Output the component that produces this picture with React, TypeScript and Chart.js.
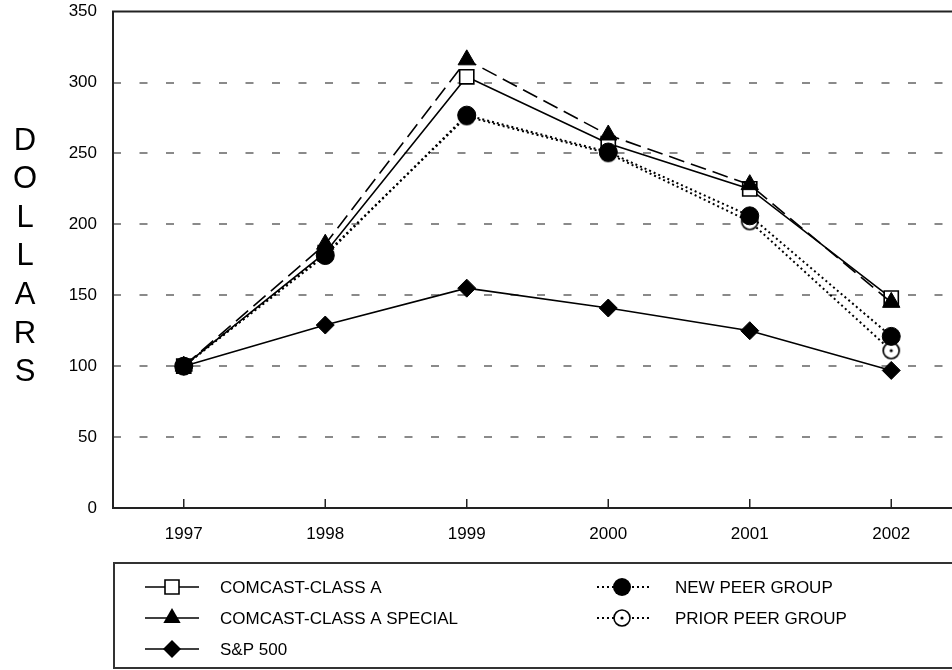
import React, { useEffect, useRef } from "react";
import { Chart, registerables } from "chart.js";

Chart.register(...registerables);

const years = ["1997", "1998", "1999", "2000", "2001", "2002"];
const yTicks = [0, 50, 100, 150, 200, 250, 300, 350];
const classA = [100, 180, 304, 257, 225, 148];
const classASpecial = [100, 186, 316, 263, 228, 145];
const newPeer = [100, 178, 277, 251, 206, 121];
const priorPeer = [100, 179, 276, 250, 202, 111];
const sp500 = [100, 129, 155, 141, 125, 97];
const axisTitle = "DOLLARS";
const legendLeft = ["COMCAST-CLASS A", "COMCAST-CLASS A SPECIAL", "S&P 500"];
const legendRight = ["NEW PEER GROUP", "PRIOR PEER GROUP"];

const FONT = "'Liberation Sans', Arial, Helvetica, sans-serif";

function makeOpenDot(r: number): HTMLCanvasElement {
  const c = document.createElement("canvas");
  const s = Math.ceil(r * 2 + 4);
  c.width = s;
  c.height = s;
  const g = c.getContext("2d")!;
  g.beginPath();
  g.arc(s / 2, s / 2, r, 0, Math.PI * 2);
  g.fillStyle = "#fff";
  g.fill();
  g.lineWidth = 1.7;
  g.strokeStyle = "#000";
  g.stroke();
  g.beginPath();
  g.arc(s / 2, s / 2, 1.6, 0, Math.PI * 2);
  g.fillStyle = "#000";
  g.fill();
  return c;
}

function drawMarker(ctx: CanvasRenderingContext2D, kind: string, x: number, y: number) {
  ctx.save();
  ctx.setLineDash([]);
  ctx.lineWidth = 1.6;
  ctx.strokeStyle = "#000";
  ctx.fillStyle = "#000";
  ctx.beginPath();
  if (kind === "square") {
    const s = 7;
    ctx.rect(x - s, y - s, 2 * s, 2 * s);
    ctx.fillStyle = "#fff";
    ctx.fill();
    ctx.stroke();
  } else if (kind === "triangle") {
    const r = 10;
    ctx.moveTo(x, y - r);
    ctx.lineTo(x + r * 0.866, y + r * 0.5);
    ctx.lineTo(x - r * 0.866, y + r * 0.5);
    ctx.closePath();
    ctx.fill();
  } else if (kind === "diamond") {
    const r = 9;
    ctx.moveTo(x, y - r);
    ctx.lineTo(x + r, y);
    ctx.lineTo(x, y + r);
    ctx.lineTo(x - r, y);
    ctx.closePath();
    ctx.fill();
  } else if (kind === "circle") {
    ctx.arc(x, y, 9, 0, Math.PI * 2);
    ctx.fill();
  } else if (kind === "opencircle") {
    ctx.arc(x, y, 8, 0, Math.PI * 2);
    ctx.fillStyle = "#fff";
    ctx.fill();
    ctx.stroke();
    ctx.beginPath();
    ctx.fillStyle = "#000";
    ctx.arc(x, y, 1.6, 0, Math.PI * 2);
    ctx.fill();
  }
  ctx.restore();
}

const framePlugin = {
  id: "frameAndGrid",
  beforeDatasetsDraw(chart: any) {
    const { ctx, chartArea } = chart;
    const y = chart.scales.y;
    const x = chart.scales.x;
    ctx.save();
    ctx.strokeStyle = "#8a8a8a";
    ctx.lineWidth = 2;
    ctx.setLineDash([8, 18.5]);
    yTicks.forEach((v) => {
      if (v === 0 || v === 350) return;
      const py = Math.round(y.getPixelForValue(v));
      ctx.beginPath();
      ctx.moveTo(chartArea.left, py);
      ctx.lineTo(chartArea.right, py);
      ctx.stroke();
    });
    ctx.setLineDash([]);
    ctx.strokeStyle = "#222";
    ctx.lineWidth = 2;
    ctx.beginPath();
    ctx.rect(chartArea.left, chartArea.top, chartArea.right - chartArea.left, chartArea.bottom - chartArea.top);
    ctx.stroke();
    ctx.lineWidth = 1.5;
    years.forEach((_, i) => {
      const px = x.getPixelForValue(i);
      ctx.beginPath();
      ctx.moveTo(px, chartArea.bottom);
      ctx.lineTo(px, chartArea.bottom - 9);
      ctx.stroke();
    });
    ctx.restore();
  },
  afterDraw(chart: any) {
    const { ctx } = chart;
    ctx.save();
    ctx.fillStyle = "#000";
    ctx.font = `31px ${FONT}`;
    ctx.textAlign = "center";
    ctx.textBaseline = "middle";
    axisTitle.split("").forEach((ch, i) => {
      ctx.fillText(ch, 25, 141 + i * 38.6);
    });
    ctx.strokeStyle = "#333";
    ctx.lineWidth = 2;
    ctx.beginPath();
    ctx.rect(114, 563, 900, 105);
    ctx.stroke();
    const rows = [587, 618, 649];
    const leftKinds = ["square", "triangle", "diamond"];
    const rightKinds = ["circle", "opencircle"];
    ctx.font = `17px ${FONT}`;
    ctx.textAlign = "left";
    ctx.textBaseline = "middle";
    legendLeft.forEach((label, i) => {
      const yy = rows[i];
      ctx.strokeStyle = "#000";
      ctx.lineWidth = 1.6;
      ctx.setLineDash([]);
      ctx.beginPath();
      ctx.moveTo(145, yy);
      ctx.lineTo(199, yy);
      ctx.stroke();
      drawMarker(ctx, leftKinds[i], 172, yy);
      ctx.fillStyle = "#000";
      ctx.fillText(label, 220, yy + 1);
    });
    legendRight.forEach((label, i) => {
      const yy = rows[i];
      ctx.strokeStyle = "#000";
      ctx.lineWidth = 2;
      ctx.setLineDash([2, 3]);
      ctx.beginPath();
      ctx.moveTo(597, yy);
      ctx.lineTo(650, yy);
      ctx.stroke();
      ctx.setLineDash([]);
      drawMarker(ctx, rightKinds[i], 622, yy);
      ctx.fillStyle = "#000";
      ctx.fillText(label, 675, yy + 1);
    });
    ctx.restore();
  },
};

export default function App() {
  const ref = useRef<HTMLCanvasElement | null>(null);
  useEffect(() => {
    if (!ref.current) return;
    const openDot = makeOpenDot(8);
    const chart = new Chart(ref.current, {
      type: "line",
      data: {
        labels: years,
        datasets: [
          {
            label: legendLeft[0],
            data: classA,
            borderColor: "#000",
            borderWidth: 1.6,
            pointStyle: "rect",
            pointRadius: 10,
            pointBackgroundColor: "#fff",
            pointBorderColor: "#000",
            pointBorderWidth: 1.6,
            order: 3,
          },
          {
            label: legendLeft[1],
            data: classASpecial,
            borderColor: "#000",
            borderWidth: 1.6,
            borderDash: [16, 7],
            pointStyle: "triangle",
            pointRadius: 10,
            pointBackgroundColor: "#000",
            pointBorderColor: "#000",
            pointBorderWidth: 1,
            order: 0,
          },
          {
            label: legendLeft[2],
            data: sp500,
            borderColor: "#000",
            borderWidth: 1.6,
            pointStyle: "rectRot",
            pointRadius: 9,
            pointBackgroundColor: "#000",
            pointBorderColor: "#000",
            pointBorderWidth: 1,
            order: 4,
          },
          {
            label: legendRight[0],
            data: newPeer,
            borderColor: "#000",
            borderWidth: 2,
            borderDash: [2, 3],
            pointStyle: "circle",
            pointRadius: 9,
            pointBackgroundColor: "#000",
            pointBorderColor: "#000",
            pointBorderWidth: 1,
            order: 1,
          },
          {
            label: legendRight[1],
            data: priorPeer,
            borderColor: "#000",
            borderWidth: 2,
            borderDash: [2, 3],
            pointStyle: openDot as any,
            pointRadius: 9,
            order: 2,
          },
        ],
      },
      options: {
        responsive: false,
        animation: false,
        devicePixelRatio: window.devicePixelRatio || 1,
        layout: { padding: { left: 0, top: 11, right: 18, bottom: 122 } },
        plugins: {
          legend: { display: false },
          tooltip: { enabled: false },
          title: { display: false },
        },
        elements: { line: { tension: 0 } },
        scales: {
          x: {
            type: "category",
            offset: true,
            grid: { display: false, drawTicks: false },
            border: { display: false },
            ticks: {
              color: "#000",
              font: { family: FONT, size: 17 },
              padding: 16,
              maxRotation: 0,
            },
            afterFit: (s: any) => {
              s.height = 40;
              s.paddingLeft = 0;
              s.paddingRight = 0;
            },
          },
          y: {
            min: 0,
            max: 350,
            grid: { display: false, drawTicks: false },
            border: { display: false },
            ticks: {
              stepSize: 50,
              color: "#000",
              font: { family: FONT, size: 17 },
              padding: 16,
            },
            afterFit: (s: any) => {
              s.width = 113;
              s.paddingTop = 0;
              s.paddingBottom = 0;
            },
          },
        },
      },
      plugins: [framePlugin],
    });
    return () => chart.destroy();
  }, []);
  return (
    <div
      style={{
        position: "fixed",
        left: 0,
        top: 0,
        width: 952,
        height: 670,
        overflow: "hidden",
        background: "#fff",
      }}
    >
      <canvas ref={ref} width={980} height={670} style={{ display: "block", width: 980, height: 670 }} />
    </div>
  );
}
